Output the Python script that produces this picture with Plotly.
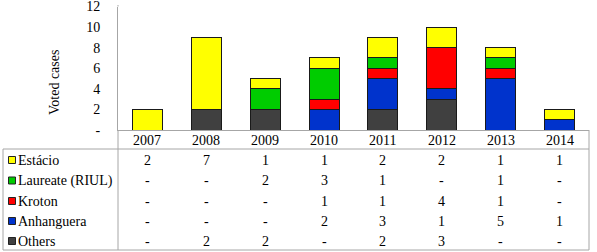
import plotly.graph_objects as go

years = ["2007", "2008", "2009", "2010", "2011", "2012", "2013", "2014"]
series_names = ["Estácio", "Laureate (RIUL)", "Kroton", "Anhanguera", "Others"]
estacio = [2, 7, 1, 1, 2, 2, 1, 1]
laureate = [0, 0, 2, 3, 1, 0, 1, 0]
kroton = [0, 0, 0, 1, 1, 4, 1, 0]
anhanguera = [0, 0, 0, 2, 3, 1, 5, 1]
others = [0, 2, 2, 0, 2, 3, 0, 0]
colors = ["#FFFF00", "#00CC00", "#FF0000", "#0033CC", "#404040"]
y_ticks = [0, 2, 4, 6, 8, 10, 12]
y_ticktext = ["-", "2", "4", "6", "8", "10", "12"]

values = [estacio, laureate, kroton, anhanguera, others]

W, H = 597, 252
def px(x):
    return x / W
def py(y):
    return 1 - y / H

FONT = "Liberation Serif"
FS = 14
GRID = "#A6A6A6"

fig = go.Figure()
# stack from bottom: Others, Anhanguera, Kroton, Laureate, Estácio
for name, vals, col in reversed(list(zip(series_names, values, colors))):
    fig.add_trace(go.Bar(x=list(years), y=[float(v) for v in vals], name=name,
                         marker=dict(color=col, line=dict(color="#1a1a1a", width=1)),
                         showlegend=False))

x0p, x1p = 118, 589
y_top, y_bot = 6.5, 130
fig.update_layout(
    width=W, height=H, margin=dict(l=0, r=0, t=0, b=0, autoexpand=False),
    paper_bgcolor="white", plot_bgcolor="white",
    barmode="stack", bargap=0.49,
    font=dict(family=FONT, size=FS, color="black"),
    xaxis=dict(type="category", categoryorder="array", categoryarray=years, range=[-0.5, len(years) - 0.5],
               domain=[px(x0p), px(x1p)], showticklabels=False, showline=True, linecolor=GRID,
               linewidth=1, showgrid=False, zeroline=False, ticks="", automargin=False),
    yaxis=dict(domain=[py(y_bot), py(y_top)], range=[0, 12], tickvals=y_ticks, ticktext=y_ticktext,
               showline=True, linecolor=GRID, linewidth=1, showgrid=False, zeroline=False, ticks="",
               automargin=False, ticklabelstandoff=14, ticklabeloverflow="allow",
               tickfont=dict(family=FONT, size=FS, color="black")),
)

shapes = []
# y axis line extends slightly above the top tick
shapes.append(dict(type="line", xref="paper", yref="paper", x0=px(x0p), x1=px(x0p), y0=py(y_top), y1=py(5),
                   line=dict(color=GRID, width=1)))
# header right border
shapes.append(dict(type="line", xref="paper", yref="paper", x0=px(x1p), x1=px(x1p), y0=py(y_bot), y1=py(149),
                   line=dict(color=GRID, width=1)))
# table outer border
shapes.append(dict(type="rect", xref="paper", yref="paper", x0=px(3), x1=px(x1p), y0=py(250), y1=py(149),
                   line=dict(color=GRID, width=1), fillcolor="rgba(0,0,0,0)"))
# label column divider
shapes.append(dict(type="line", xref="paper", yref="paper", x0=px(x0p), x1=px(x0p), y0=py(250), y1=py(y_bot),
                   line=dict(color=GRID, width=1)))

row_centers = [160, 180.5, 201, 221, 241]
annotations = []
for i, yr in enumerate(years):
    annotations.append(dict(x=i, xref="x", y=py(140), yref="paper", text=yr, showarrow=False,
                            xanchor="center", yanchor="middle", font=dict(family=FONT, size=FS, color="black")))
for name, vals, col, yc in zip(series_names, values, colors, row_centers):
    shapes.append(dict(type="rect", xref="paper", yref="paper", x0=px(8.5), x1=px(15.5), y0=py(yc + 3.5),
                       y1=py(yc - 3.5), fillcolor=col, line=dict(color="#222222", width=1)))
    annotations.append(dict(x=px(16), xref="paper", y=py(yc), yref="paper", text=name, showarrow=False,
                            xanchor="left", yanchor="middle", font=dict(family=FONT, size=FS, color="black")))
    for i, v in enumerate(vals):
        annotations.append(dict(x=i, xref="x", y=py(yc), yref="paper", text=str(v) if v else "-",
                                showarrow=False, xanchor="center", yanchor="middle",
                                font=dict(family=FONT, size=FS, color="black")))
annotations.append(dict(x=px(55), xref="paper", y=py(83), yref="paper", text="Voted cases", textangle=-90,
                        showarrow=False, xanchor="center", yanchor="middle",
                        font=dict(family=FONT, size=FS, color="black")))
fig.update_layout(shapes=shapes, annotations=annotations)

fig.write_html("out.html")
